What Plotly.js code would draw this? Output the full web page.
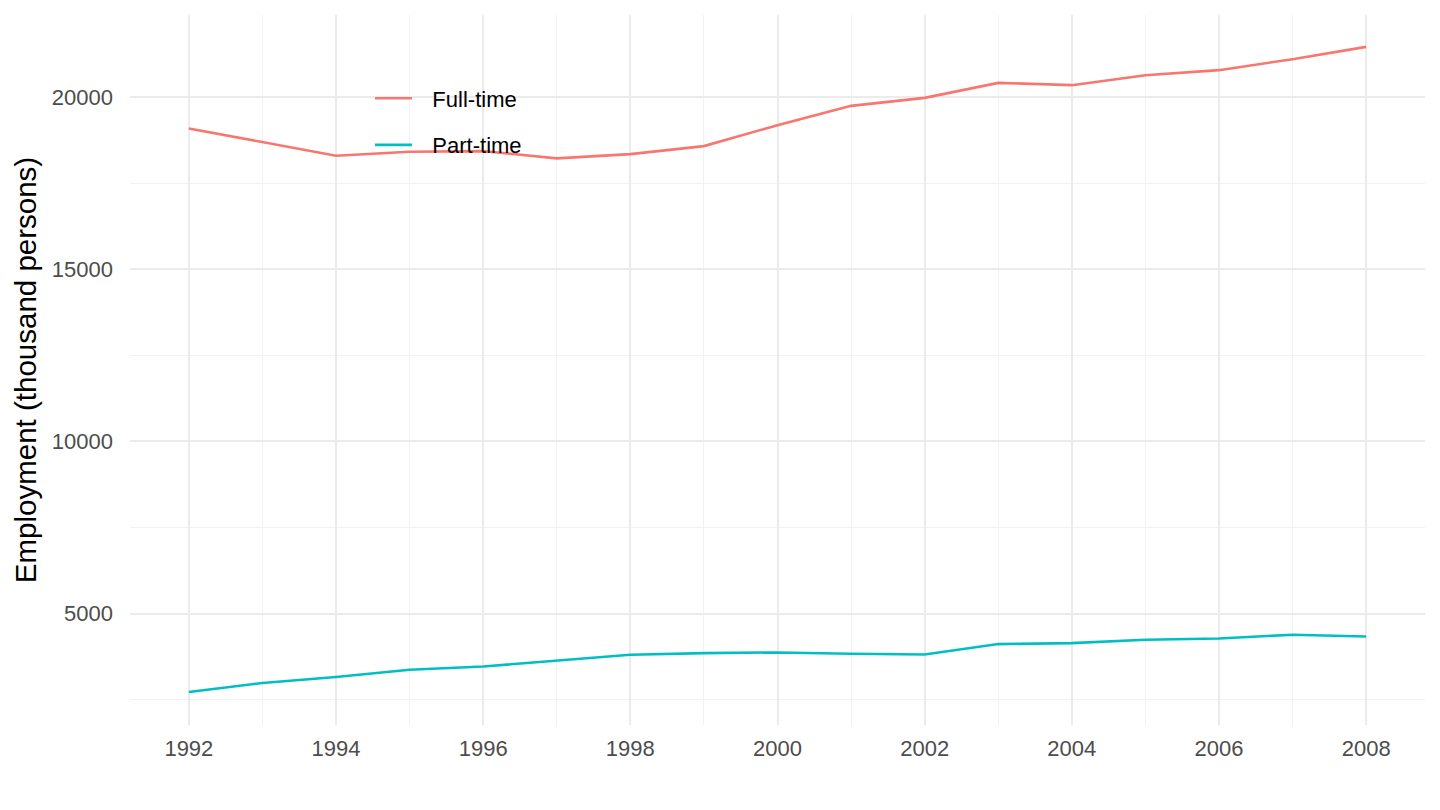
<!DOCTYPE html>
<html>
<head>
<meta charset="utf-8">
<script src="https://cdn.plot.ly/plotly-3.0.1.min.js"></script>
<style>
  html, body { margin: 0; padding: 0; background: #fff; }
  #chart { width: 1440px; height: 810px; }
</style>
</head>
<body>
<div id="chart"></div>
<script>
// employment by year, thousand persons
const years = [1992, 1993, 1994, 1995, 1996, 1997, 1998, 1999, 2000,
               2001, 2002, 2003, 2004, 2005, 2006, 2007, 2008];
const fullTime = [19084, 18687, 18289, 18405, 18426, 18214, 18339, 18571, 19179,
                  19739, 19971, 20406, 20339, 20629, 20774, 21093, 21450];
const partTime = [2730, 2991, 3165, 3376, 3472, 3637, 3811, 3860, 3878,
                  3840, 3820, 4121, 4150, 4246, 4284, 4391, 4342];
const seriesNames = ["Full-time", "Part-time"];
const seriesColors = ["#F8766D", "#00BFC4"];

const font = "Liberation Sans, Arial, Helvetica, sans-serif";

let traces = [fullTime, partTime].map((vals, i) => ({
    type: "scatter",
    mode: "lines",
    x: years,
    y: vals,
    // a little gap between the legend key and its label, like ggplot
    name: "\u2002\u2009" + seriesNames[i],
    legendgroup: "g" + i,
    line: {color: seriesColors[i], width: 2.6},
    hoverinfo: "x+y"
}));

let layout = {
    width: 1440,
    height: 810,
    margin: {l: 130, r: 15, t: 15, b: 85},
    paper_bgcolor: "#ffffff",
    plot_bgcolor: "#ffffff",
    font: {family: font, size: 22, color: "#4d4d4d"},
    showlegend: true,
    legend: {
        x: 0.1853, y: 0.912, xanchor: "left", yanchor: "top",
        bgcolor: "rgba(0,0,0,0)",
        font: {family: font, size: 22, color: "#000000"},
        itemwidth: 37,
        traceorder: "grouped",
        tracegroupgap: 15
    },
    xaxis: {
        range: [1991.2, 2008.8],
        tick0: 1992, dtick: 2,
        showline: false, zeroline: false,
        gridcolor: "#ebebeb", gridwidth: 2,
        ticks: "", ticklabelstandoff: 8,
        tickfont: {size: 22, color: "#4d4d4d"},
        minor: {dtick: 1, tick0: 1992, showgrid: true, gridcolor: "#f2f2f2", gridwidth: 1.3},
        fixedrange: true
    },
    yaxis: {
        range: [1773, 22375],
        tick0: 0, dtick: 5000, tickformat: "d",
        showline: false, zeroline: false,
        gridcolor: "#ebebeb", gridwidth: 2,
        ticks: "", ticklabelstandoff: 16,
        tickfont: {size: 22, color: "#4d4d4d"},
        minor: {dtick: 2500, tick0: 0, showgrid: true, gridcolor: "#f2f2f2", gridwidth: 1.3},
        title: {text: "Employment (thousand persons)", standoff: 6,
                font: {family: font, size: 29.5, color: "#000000"}},
        fixedrange: true
    }
};

Plotly.newPlot("chart", traces, layout, {displayModeBar: false});
</script>
</body>
</html>
